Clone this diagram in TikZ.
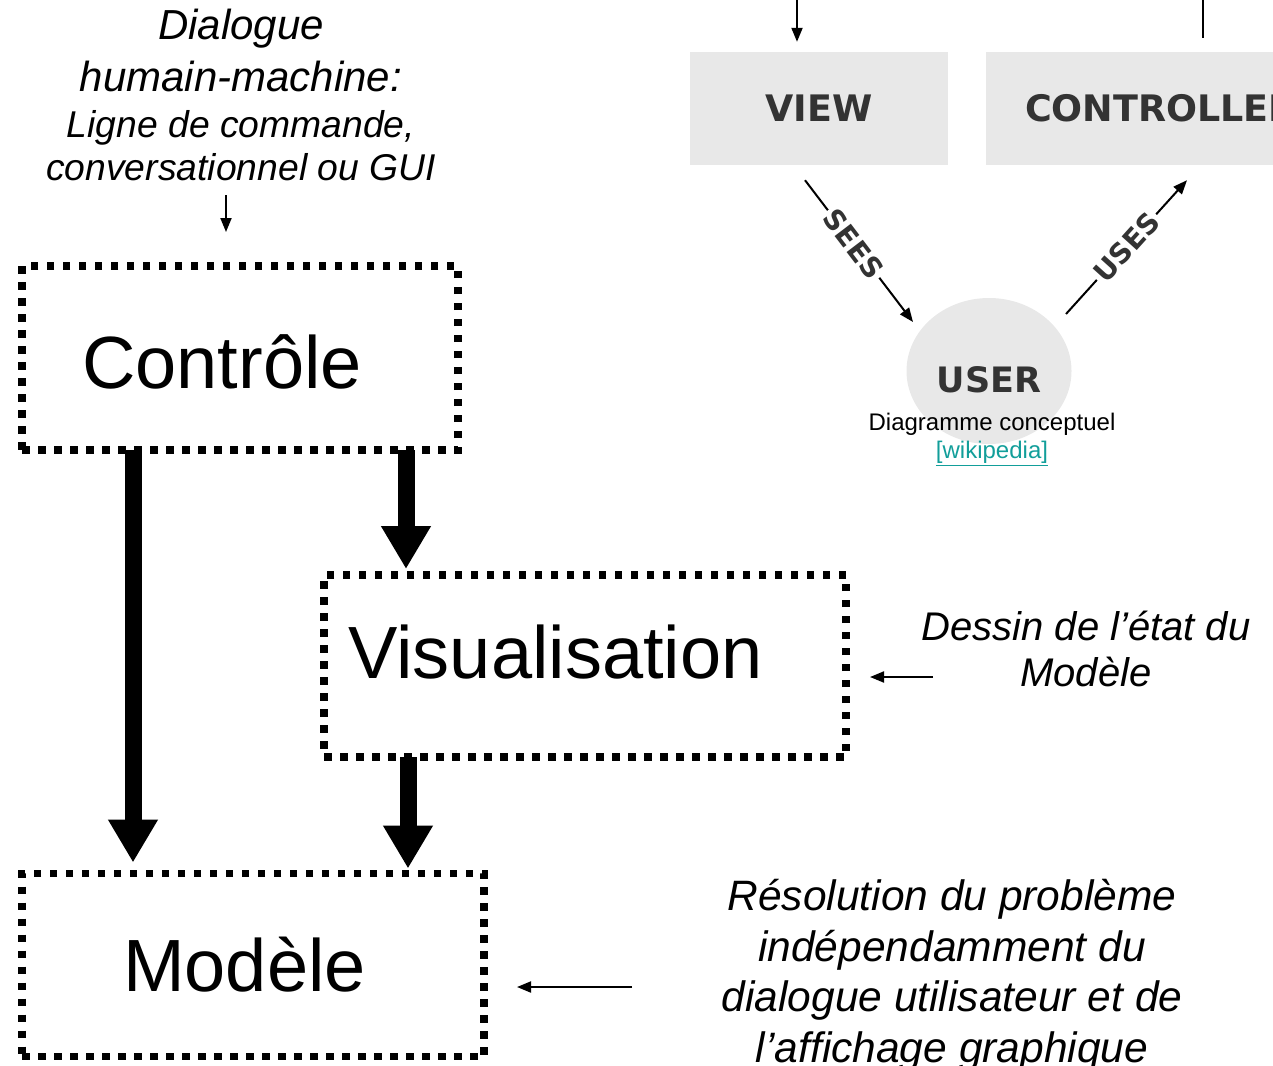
\documentclass[tikz,border=0pt]{standalone}
\usepackage{fontspec}
\setmainfont{Liberation Sans}
\newfontfamily\verdfont{DejaVu Sans}
\usepackage{xcolor}
\usetikzlibrary{arrows.meta,positioning,shapes.geometric}
\definecolor{boxgray}{HTML}{E8E8E8}
\definecolor{labelgray}{HTML}{333333}
\definecolor{linkteal}{HTML}{129E9A}

\begin{document}
\begin{tikzpicture}[x=1pt,y=-1pt,>=Latex,
  dotbox/.style={draw,line width=7.5pt,dash pattern=on 7.5pt off 8.5pt,outer sep=0pt,inner sep=0pt},
  bigtext/.style={font=\fontsize{74}{88}\selectfont},
  note/.style={align=center,inner sep=0pt,anchor=north,font=\itshape},
  mvcbox/.style={fill=boxgray,text=labelgray,minimum height=113pt,font=\verdfont\bfseries\fontsize{36.5}{44}\selectfont},
  mvclabel/.style={sloped,fill=white,inner sep=3pt,text=labelgray,font=\verdfont\bfseries\fontsize{28}{34}\selectfont},
  thickarrow/.style={line width=17pt,-{Triangle[length=43pt,width=47pt]}},
  thinarrow/.style={line width=2pt,-{Triangle[length=14pt,width=11pt]}}]
\useasboundingbox (0,0) rectangle (1273,1065);
\clip (0,0) rectangle (1273,1065);

% the three parts
\node[dotbox,minimum width=436pt,minimum height=184pt,
  label={[bigtext,xshift=-18pt,yshift=-4pt]center:Contrôle}] (ctrl) at (240,358) {};
\node[dotbox,minimum width=522pt,minimum height=182pt,
  label={[bigtext,xshift=-29.5pt,yshift=14pt]center:Visualisation}] (vis) at (585,666) {};
\node[dotbox,minimum width=462pt,minimum height=183pt,
  label={[bigtext,xshift=-8.5pt,yshift=0pt]center:Modèle}] (mod) at (253,965) {};

\draw[thickarrow] ([xshift=-107pt]ctrl.south) -- ([xshift=-120pt,yshift=11pt]mod.north);
\draw[thickarrow] ([xshift=166pt]ctrl.south) -- ([xshift=-179pt,yshift=6pt]vis.north);
\draw[thickarrow] ([xshift=-177pt]vis.south) -- ([xshift=155pt,yshift=5pt]mod.north);

% comments
\node[note,font=\itshape\fontsize{42}{52}\selectfont] (dlg) at (241,9) {Dialogue\\humain-machine:\\[-6pt]
  \fontsize{37.3}{45}\selectfont Ligne de commande,\\[-9pt]\fontsize{37.3}{45}\selectfont conversationnel ou GUI};
\coordinate (dlgout) at (226,195);
\coordinate (dlgin) at (226,232);
\draw[thinarrow] (dlgout) -- (dlgin);

\node[note,font=\itshape\fontsize{40}{46}\selectfont] (dessin) at (1086,611) {Dessin de l’état du\\Modèle};
\coordinate (dessinout) at (933,677);
\draw[thinarrow] (dessinout) -- ([xshift=24pt,yshift=-11pt]vis.east);

\node[note,font=\itshape\fontsize{42.5}{50.5}\selectfont] (resol) at (952,879) {Résolution du problème\\
  indépendamment du\\dialogue utilisateur et de\\l’affichage graphique};
\coordinate (resolout) at (632,987);
\draw[thinarrow] (resolout) -- ([xshift=33pt,yshift=-22pt]mod.east);

% MVC diagram
\node[mvcbox,minimum width=258pt] (view) at (819,108.5) {VIEW};
\node[mvcbox,minimum width=350pt] (ctrlr) at (1161,108.5) {CONTROLLER};
\node[ellipse,fill=boxgray,minimum width=165pt,minimum height=146pt,
  label={[text=labelgray,font=\verdfont\bfseries\fontsize{35}{42}\selectfont,yshift=-9pt]center:USER}] (user) at (989,371) {};
\node[align=center,inner sep=0pt,anchor=north,font=\fontsize{24}{28}\selectfont] (caption) at (992,413)
  {Diagramme conceptuel\\\textcolor{linkteal}{\underline{[wikipedia]}}};

\coordinate (viewin) at (797,0);
\coordinate (ctrlrin) at (1203,0);
\draw[thinarrow] (viewin) -- ([xshift=-22pt,yshift=10pt]view.north);
\draw[line width=2pt] (ctrlrin) -- ([xshift=42pt,yshift=14pt]ctrlr.north);
\draw[thinarrow] ([shift={(-14,15)}]view.south) -- node[mvclabel,pos=0.45] {SEES} ([shift={(-76,-49)}]user.center);
\draw[thinarrow] ([shift={(77,-57)}]user.center) -- node[mvclabel,pos=0.5] {USES} ([shift={(26,15)}]ctrlr.south);
\end{tikzpicture}
\end{document}
